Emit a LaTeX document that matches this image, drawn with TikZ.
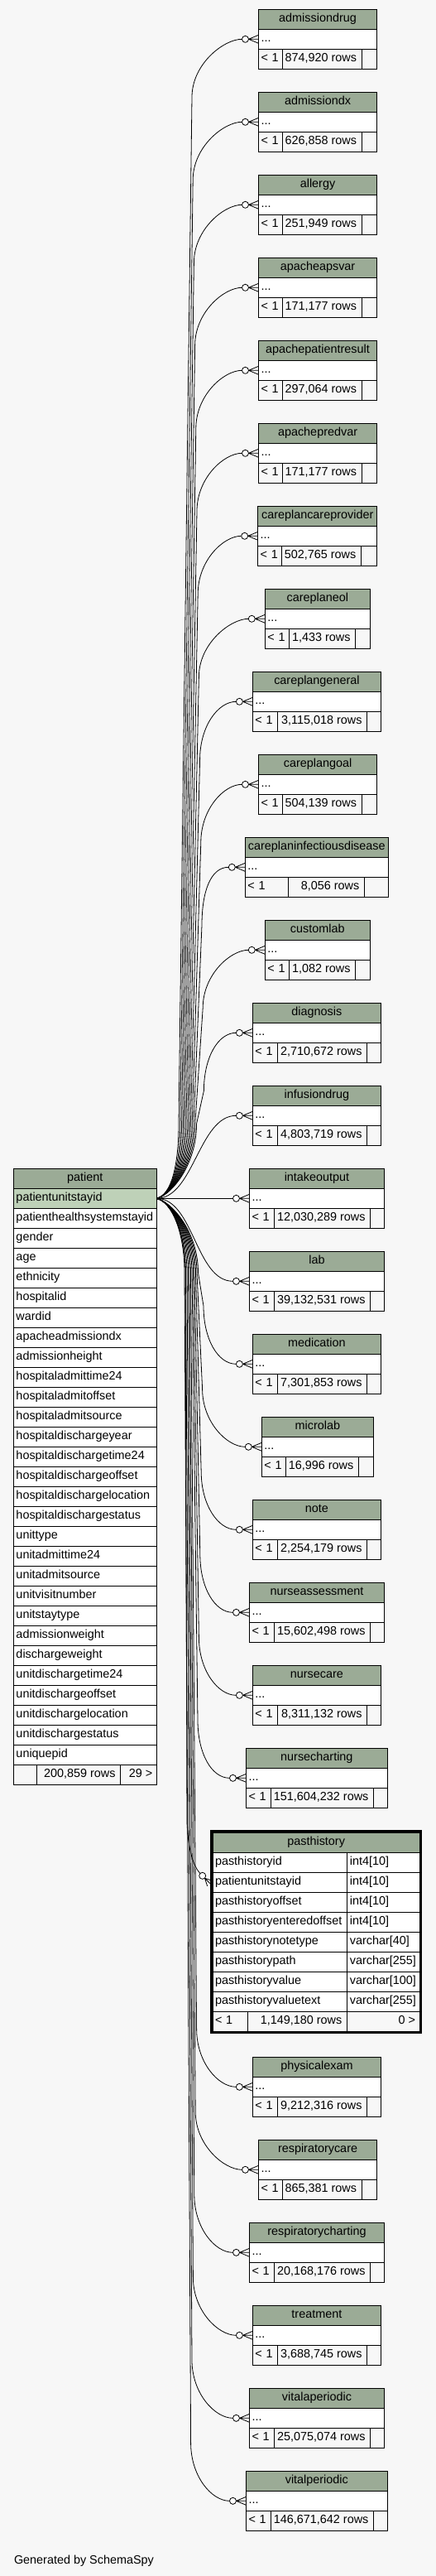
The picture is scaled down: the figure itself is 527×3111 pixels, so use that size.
\documentclass[tikz,border=0pt]{standalone}
\usepackage{fontspec}
\setmainfont{Liberation Sans}
\usetikzlibrary{calc}
\definecolor{bgc}{HTML}{F7F7F7}
\definecolor{hdc}{HTML}{9BAB96}
\definecolor{keyc}{HTML}{BED1B8}
\tikzset{
  cell/.style={draw=black, line width=1pt, inner xsep=3pt, inner ysep=0pt, outer sep=0pt,
    minimum height=24pt, text height=10pt, text depth=3pt, anchor=north west,
    font=\fontsize{14.4}{16}\selectfont},
  hcell/.style={cell, fill=hdc, align=center},
  rcell/.style={cell, fill=white, align=left},
  fcell/.style={cell, fill=bgc},
  rtext/.style={inner sep=0pt, outer sep=0pt, text height=10pt, text depth=3pt, anchor=east,
    font=\fontsize{14.4}{16}\selectfont},
  edge/.style={draw=black, line width=0.8pt},
}
% id, label, top, left, s1, s2, right, rows
\newcommand\dbtable[8]{%
  \pgfmathsetmacro\tbW{#7-#4}\pgfmathsetmacro\tbWt{#7-#4-6}%
  \pgfmathsetmacro\tbA{#5-#4}\pgfmathsetmacro\tbAt{#5-#4-6}%
  \pgfmathsetmacro\tbB{#6-#5}%
  \pgfmathsetmacro\tbC{#7-#6}%
  \node[hcell, minimum width=\tbW pt, text width=\tbWt pt] (#1-h) at (#4,#3) {#2};
  \node[rcell, minimum width=\tbW pt, text width=\tbWt pt] (#1) at (#4,#3+24) {...};
  \node[fcell, minimum width=\tbA pt, text width=\tbAt pt, align=left] (#1-a) at (#4,#3+48) {< 1};
  \node[fcell, minimum width=\tbB pt] (#1-b) at (#5,#3+48) {};
  \node[rtext] (#1-bt) at ($(#1-b.east)+(-6,0)$) {#8 rows};
  \node[fcell, minimum width=\tbC pt] (#1-c) at (#6,#3+48) {};
}
\newcommand\crowat[1]{%
  \draw[edge] ($(#1.west)+(-12,0)$) -- ($(#1.west)+(0,-5)$)
              ($(#1.west)+(-12,0)$) -- (#1.west)
              ($(#1.west)+(-12,0)$) -- ($(#1.west)+(0,5)$);
  \draw[edge, fill=white] ($(#1.west)+(-16,0)$) circle (4);
}
\begin{document}
\begin{tikzpicture}[x=1pt,y=-1pt]
\fill[bgc] (0,0) rectangle (527,3111);
\useasboundingbox (0,0) rectangle (527,3111);

% patient table
\node[hcell, minimum width=172.7pt, text width=166.7pt] (pat-h) at (16.5,1411.3) {patient};
\node[rcell, fill=keyc, minimum width=172.7pt, text width=166.7pt] (p1) at (16.5,1435.3) {patientunitstayid};
\foreach \nm [count=\k from 2] in {patienthealthsystemstayid,gender,age,ethnicity,hospitalid,wardid,apacheadmissiondx,admissionheight,hospitaladmittime24,hospitaladmitoffset,hospitaladmitsource,hospitaldischargeyear,hospitaldischargetime24,hospitaldischargeoffset,hospitaldischargelocation,hospitaldischargestatus,unittype,unitadmittime24,unitadmitsource,unitvisitnumber,unitstaytype,admissionweight,dischargeweight,unitdischargetime24,unitdischargeoffset,unitdischargelocation,unitdischargestatus,uniquepid}
  \node[rcell, minimum width=172.7pt, text width=166.7pt] (p\k) at (16.5,{1435.3+24*(\k-1)}) {\nm};
\node[fcell, minimum width=27.9pt] (pat-a) at (16.5,2131.3) {};
\node[fcell, minimum width=100.8pt] (pat-b) at (44.4,2131.3) {};
\node[rtext] (pat-bt) at ($(pat-b.east)+(-5.7,0)$) {200,859 rows};
\node[fcell, minimum width=44pt] (pat-c) at (145.2,2131.3) {};
\node[rtext] (pat-ct) at ($(pat-c.east)+(-5,0)$) {29 >};

% small tables
\dbtable{admissiondrug}{admissiondrug}{11.3}{312.5}{341.6}{437.1}{455.6}{874,920}
\dbtable{admissiondx}{admissiondx}{111.3}{312.5}{341.6}{437.1}{455.6}{626,858}
\dbtable{allergy}{allergy}{211.3}{312.5}{341.6}{437.1}{455.6}{251,949}
\dbtable{apacheapsvar}{apacheapsvar}{311.3}{312.5}{341.6}{437.1}{455.6}{171,177}
\dbtable{apachepatientresult}{apachepatientresult}{411.3}{312.5}{341.6}{437.1}{455.6}{297,064}
\dbtable{apachepredvar}{apachepredvar}{511.3}{312.5}{341.6}{437.1}{455.6}{171,177}
\dbtable{careplancareprovider}{careplancareprovider}{611.3}{311.7}{340.7}{436.3}{455.7}{502,765}
\dbtable{careplaneol}{careplaneol}{711.3}{320.3}{349.3}{429.5}{447.3}{1,433}
\dbtable{careplangeneral}{careplangeneral}{811.3}{305.4}{335.4}{443.6}{460.4}{3,115,018}
\dbtable{careplangoal}{careplangoal}{911.3}{312.5}{341.6}{437.1}{455.6}{504,139}
\dbtable{careplaninfectiousdisease}{careplaninfectiousdisease}{1011.3}{296.3}{348.3}{440.3}{469.3}{8,056}
\dbtable{customlab}{customlab}{1111.3}{320.3}{349.3}{429.5}{447.3}{1,082}
\dbtable{diagnosis}{diagnosis}{1211.3}{305.4}{335.4}{443.6}{460.4}{2,710,672}
\dbtable{infusiondrug}{infusiondrug}{1311.3}{305.4}{335.4}{443.6}{460.4}{4,803,719}
\dbtable{intakeoutput}{intakeoutput}{1411.3}{301.5}{331.5}{447.5}{464.5}{12,030,289}
\dbtable{lab}{lab}{1511.3}{301.5}{331.5}{447.5}{464.5}{39,132,531}
\dbtable{medication}{medication}{1611.3}{305.4}{335.4}{443.6}{460.4}{7,301,853}
\dbtable{microlab}{microlab}{1711.3}{316.3}{345.2}{433.3}{451.4}{16,996}
\dbtable{note}{note}{1811.3}{305.4}{335.4}{443.6}{460.4}{2,254,179}
\dbtable{nurseassessment}{nurseassessment}{1911.3}{301.5}{331.5}{447.5}{464.5}{15,602,498}
\dbtable{nursecare}{nursecare}{2011.3}{305.4}{335.4}{443.6}{460.4}{8,311,132}
\dbtable{nursecharting}{nursecharting}{2111.3}{297.5}{327.4}{451.4}{468.2}{151,604,232}
\dbtable{physicalexam}{physicalexam}{2484.3}{305.4}{335.4}{443.6}{460.4}{9,212,316}
\dbtable{respiratorycare}{respiratorycare}{2584.3}{312.5}{341.6}{437.1}{455.6}{865,381}
\dbtable{respiratorycharting}{respiratorycharting}{2684.3}{301.5}{331.5}{447.5}{464.5}{20,168,176}
\dbtable{treatment}{treatment}{2784.3}{305.4}{335.4}{443.6}{460.4}{3,688,745}
\dbtable{vitalaperiodic}{vitalaperiodic}{2884.3}{301.5}{331.5}{447.5}{464.5}{25,075,074}
\dbtable{vitalperiodic}{vitalperiodic}{2984.3}{297.5}{327.4}{451.4}{468.2}{146,671,642}

% pasthistory (focused table)
\node[hcell, minimum width=250.3pt, text width=244.3pt] (ph-h) at (257,2213.3) {pasthistory};
\foreach \nm/\ty [count=\k] in {pasthistoryid/int4[10],patientunitstayid/int4[10],pasthistoryoffset/int4[10],pasthistoryenteredoffset/int4[10],pasthistorynotetype/varchar[40],pasthistorypath/varchar[255],pasthistoryvalue/varchar[100],pasthistoryvaluetext/varchar[255]}{
  \node[rcell, minimum width=162.3pt, text width=156.3pt] (ph\k) at (257,{2237.3+24*(\k-1)}) {\nm};
  \node[rcell, minimum width=88pt, text width=81pt, inner xsep=3.5pt] (pt\k) at (419.3,{2237.3+24*(\k-1)}) {\ty};
}
\node[fcell, minimum width=42.3pt, text width=36.3pt, align=left] (ph-a) at (257,2429.3) {< 1};
\node[fcell, minimum width=120pt] (ph-b) at (299.3,2429.3) {};
\node[rtext] (ph-bt) at ($(ph-b.east)+(-6,0)$) {1,149,180 rows};
\node[fcell, minimum width=88pt] (ph-c) at (419.3,2429.3) {};
\node[rtext] (ph-ct) at ($(ph-c.east)+(-5.3,0)$) {0 >};
\draw[line width=3pt] (255.5,2211.8) rectangle (508.8,2454.8);

% connectors to tables above the key
\foreach \id/\tp [count=\i] in {admissiondrug/11.3,admissiondx/111.3,allergy/211.3,apacheapsvar/311.3,apachepatientresult/411.3,apachepredvar/511.3,careplancareprovider/611.3,careplaneol/711.3,careplangeneral/811.3,careplangoal/911.3,careplaninfectiousdisease/1011.3,customlab/1111.3,diagnosis/1211.3}{
  \pgfmathsetmacro\exT{232+1.2*(\i-1)}
  \pgfmathsetmacro\exB{216+1.8*(\i-1)}
  \pgfmathsetmacro\exY{\tp+36+70}
  \draw[edge] (p1.east) .. controls +(18,-4) and +(0,50) .. (\exB,1357) -- (\exT,\exY) .. controls +(0,-40) and +(-22,0) .. ($(\id.west)+(-20,0)$);
  \crowat{\id}
}
% connectors to tables below the key
\foreach \id/\tp [count=\m] in {medication/1611.3,microlab/1711.3,note/1811.3,nurseassessment/1911.3,nursecare/2011.3,nursecharting/2111.3,physicalexam/2484.3,respiratorycare/2584.3,respiratorycharting/2684.3,treatment/2784.3,vitalaperiodic/2884.3,vitalperiodic/2984.3}{
  \pgfmathsetmacro\exT{246-1.4*(\m-1)}
  \pgfmathsetmacro\exB{239.5-1.5*(\m-1)}
  \pgfmathsetmacro\exY{\tp+36-70}
  \draw[edge] (p1.east) .. controls +(18,4) and +(0,-50) .. (\exB,1537) -- (\exT,\exY) .. controls +(0,40) and +(-22,0) .. ($(\id.west)+(-20,0)$);
  \crowat{\id}
}
% near connectors
\draw[edge] (p1.east) .. controls +(45,0) and +(-45,0) .. ($(infusiondrug.west)+(-20,0)$);
\crowat{infusiondrug}
\draw[edge] (p1.east) -- ($(intakeoutput.west)+(-20,0)$);
\crowat{intakeoutput}
\draw[edge] (p1.east) .. controls +(45,0) and +(-45,0) .. ($(lab.west)+(-20,0)$);
\crowat{lab}

% connector to pasthistory.patientunitstayid
\coordinate (phC) at ($(ph2.west)+(-12.3,-8)$);
\coordinate (phin) at ($(phC)+(-2.8,-2.9)$);
\draw[edge] (p1.east) .. controls +(18,4) and +(0,-50) .. (224,1537) -- (226,2200) .. controls (227,2228) and (232,2252) .. (phin);
\draw[edge] ($(phC)+(2.8,2.9)$) -- ($(phC)+(5.9,12.4)$)
            ($(phC)+(2.8,2.9)$) -- ($(phC)+(9.1,9.3)$)
            ($(phC)+(2.8,2.9)$) -- ($(phC)+(12.3,6.2)$);
\draw[edge, fill=white] (phC) circle (4);

\node[anchor=base west, inner sep=0pt, font=\fontsize{14.4}{16}\selectfont] (gen) at (16.8,3096.7) {Generated by SchemaSpy};
\end{tikzpicture}
\end{document}
